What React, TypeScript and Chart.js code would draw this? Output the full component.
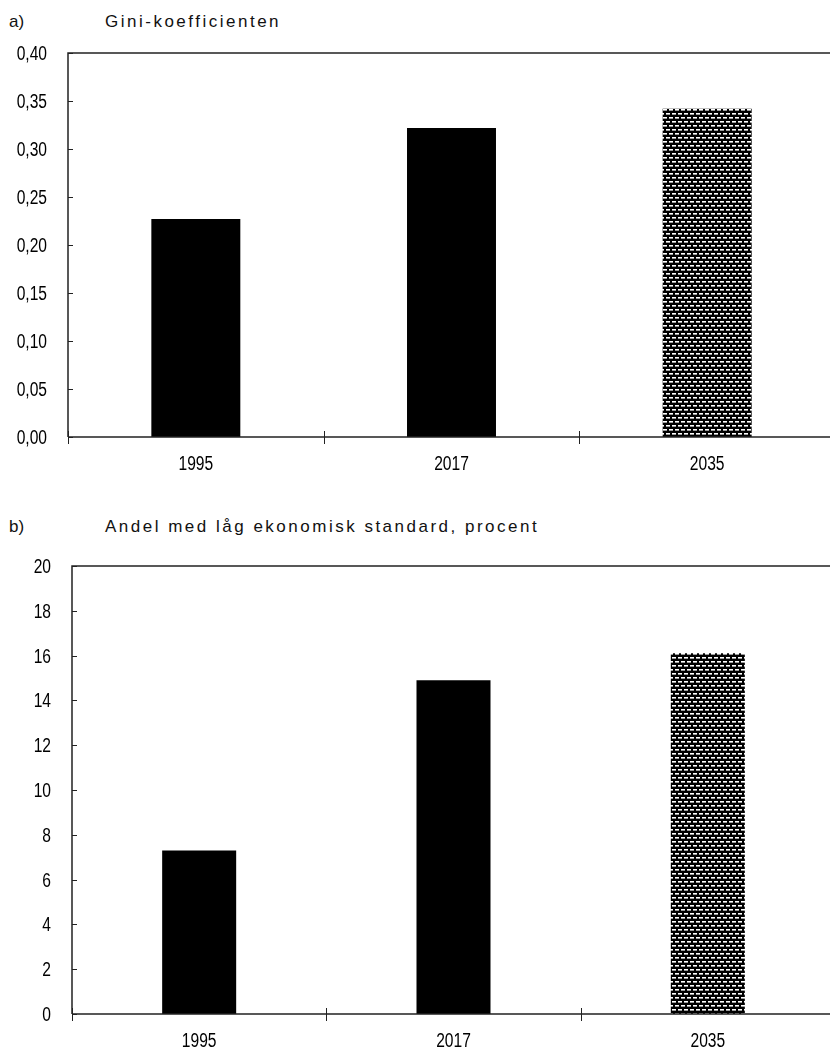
import React, { useEffect, useRef } from 'react';
import { Chart, registerables } from 'chart.js';

Chart.register(...registerables);

const categories = ['1995', '2017', '2035'];
const giniValues = [0.227, 0.322, 0.342];
const lowStandardValues = [7.3, 14.9, 16.1];
const giniTitle = 'Gini-koefficienten';
const lowStandardTitle = 'Andel med låg ekonomisk standard, procent';
const giniTickMax = 0.4;
const giniTickStep = 0.05;
const lowTickMax = 20;
const lowTickStep = 2;

const LABEL_FONT = "20px 'Liberation Sans', Arial, sans-serif";
const LABEL_SQUEEZE = 0.78;
const AXIS_COLOR = '#222';

function makePattern(): CanvasPattern | string {
  const c = document.createElement('canvas');
  c.width = 6;
  c.height = 8;
  const g = c.getContext('2d');
  if (!g) return '#000';
  g.fillStyle = '#000';
  g.fillRect(0, 0, 6, 8);
  g.fillStyle = '#fff';
  g.fillRect(0, 1, 4, 1);
  g.fillRect(3, 5, 3, 1);
  g.fillRect(0, 5, 1, 1);
  g.fillStyle = '#9a9a9a';
  g.fillRect(0, 2, 4, 1);
  g.fillRect(3, 6, 3, 1);
  g.fillRect(0, 6, 1, 1);
  const p = g.createPattern(c, 'repeat');
  return p || '#000';
}

function drawSqueezed(ctx: CanvasRenderingContext2D, text: string, x: number, y: number, align: 'right' | 'center') {
  ctx.save();
  ctx.translate(x, y);
  ctx.scale(LABEL_SQUEEZE, 1);
  ctx.textAlign = align;
  ctx.textBaseline = 'alphabetic';
  ctx.fillText(text, 0, 0);
  ctx.restore();
}

const framePlugin = {
  id: 'frame',
  afterDraw(chart: any) {
    const { ctx, chartArea } = chart;
    const { left, right, top, bottom } = chartArea;
    const y = chart.scales.y;
    const x = chart.scales.x;
    const labels: string[] = chart.data.labels;
    const n = labels.length;
    ctx.save();
    ctx.strokeStyle = AXIS_COLOR;
    ctx.lineWidth = 1.5;
    ctx.beginPath();
    ctx.moveTo(left, bottom);
    ctx.lineTo(left, top);
    ctx.lineTo(right, top);
    ctx.moveTo(left, bottom);
    ctx.lineTo(right, bottom);
    ctx.stroke();
    ctx.lineWidth = 1;
    ctx.beginPath();
    y.ticks.forEach((_t: any, i: number) => {
      const py = Math.round(y.getPixelForTick(i)) + 0.5;
      ctx.moveTo(left, py);
      ctx.lineTo(left + 5, py);
    });
    for (let i = 0; i <= n; i++) {
      const px = Math.round(left + (i * (right - left)) / n) + 0.5;
      ctx.moveTo(px, bottom - 6);
      ctx.lineTo(px, bottom + 7);
    }
    ctx.stroke();

    ctx.fillStyle = '#000';
    ctx.font = LABEL_FONT;
    y.ticks.forEach((t: any, i: number) => {
      const py = y.getPixelForTick(i);
      drawSqueezed(ctx, String(t.label), left - 21, py + 7, 'right');
    });
    labels.forEach((lab, i) => {
      const px = x.getPixelForValue(i);
      drawSqueezed(ctx, lab, px, bottom + 33, 'center');
    });
    ctx.restore();
  },
};

interface PanelProps {
  values: number[];
  max: number;
  step: number;
  decimals: number;
  width: number;
  height: number;
  axisLeft: number;
  plotTop: number;
  plotBottom: number;
  barPct: number;
}

function Panel(props: PanelProps) {
  const ref = useRef<HTMLCanvasElement | null>(null);
  useEffect(() => {
    const canvas = ref.current;
    if (!canvas) return;
    const pattern = makePattern();
    const chart = new Chart(canvas, {
      type: 'bar',
      data: {
        labels: categories,
        datasets: [
          {
            data: props.values,
            backgroundColor: ['#000', '#000', pattern as any],
            borderWidth: 0,
            barPercentage: props.barPct,
            categoryPercentage: 1,
          },
        ],
      },
      options: {
        responsive: false,
        animation: false,
        devicePixelRatio: 1,
        layout: { padding: { left: 0, right: 0, top: props.plotTop, bottom: 0 } },
        plugins: { legend: { display: false }, tooltip: { enabled: false }, title: { display: false } },
        scales: {
          x: {
            grid: { display: false },
            border: { display: false },
            ticks: { display: false },
            afterFit: (scale: any) => {
              scale.height = props.height - props.plotBottom;
            },
          },
          y: {
            min: 0,
            max: props.max,
            grid: { display: false },
            border: { display: false },
            ticks: {
              display: false,
              stepSize: props.step,
              callback: (v: any) => Number(v).toFixed(props.decimals).replace('.', ','),
            },
            afterFit: (scale: any) => {
              scale.width = props.axisLeft;
            },
          },
        },
      },
      plugins: [framePlugin],
    });
    return () => chart.destroy();
  }, []);
  return (
    <canvas
      ref={ref}
      width={props.width}
      height={props.height}
      style={{ display: 'block', width: props.width + 'px', height: props.height + 'px' }}
    />
  );
}

const titleStyle: React.CSSProperties = {
  position: 'absolute',
  fontFamily: "'Liberation Sans', Arial, sans-serif",
  fontSize: '17px',
  lineHeight: '17px',
  color: '#111',
  whiteSpace: 'nowrap',
};

export default function App() {
  return (
    <div
      style={{
        position: 'absolute',
        left: 0,
        top: 0,
        width: '830px',
        height: '1050px',
        overflow: 'hidden',
        background: '#fff',
      }}
    >
      <div style={{ ...titleStyle, left: '9px', top: '13px' }}>a)</div>
      <div style={{ ...titleStyle, left: '105px', top: '13px', letterSpacing: '2.5px' }}>{giniTitle}</div>
      <div style={{ position: 'absolute', left: 0, top: 0 }}>
        <Panel
          values={giniValues}
          max={giniTickMax}
          step={giniTickStep}
          decimals={2}
          width={835}
          height={500}
          axisLeft={68}
          plotTop={53}
          plotBottom={437}
          barPct={0.348}
        />
      </div>
      <div style={{ ...titleStyle, left: '9px', top: '518px' }}>b)</div>
      <div style={{ ...titleStyle, left: '105px', top: '518px', letterSpacing: '2.5px' }}>{lowStandardTitle}</div>
      <div style={{ position: 'absolute', left: 0, top: '520px' }}>
        <Panel
          values={lowStandardValues}
          max={lowTickMax}
          step={lowTickStep}
          decimals={0}
          width={835}
          height={530}
          axisLeft={72}
          plotTop={46}
          plotBottom={494}
          barPct={0.291}
        />
      </div>
    </div>
  );
}
